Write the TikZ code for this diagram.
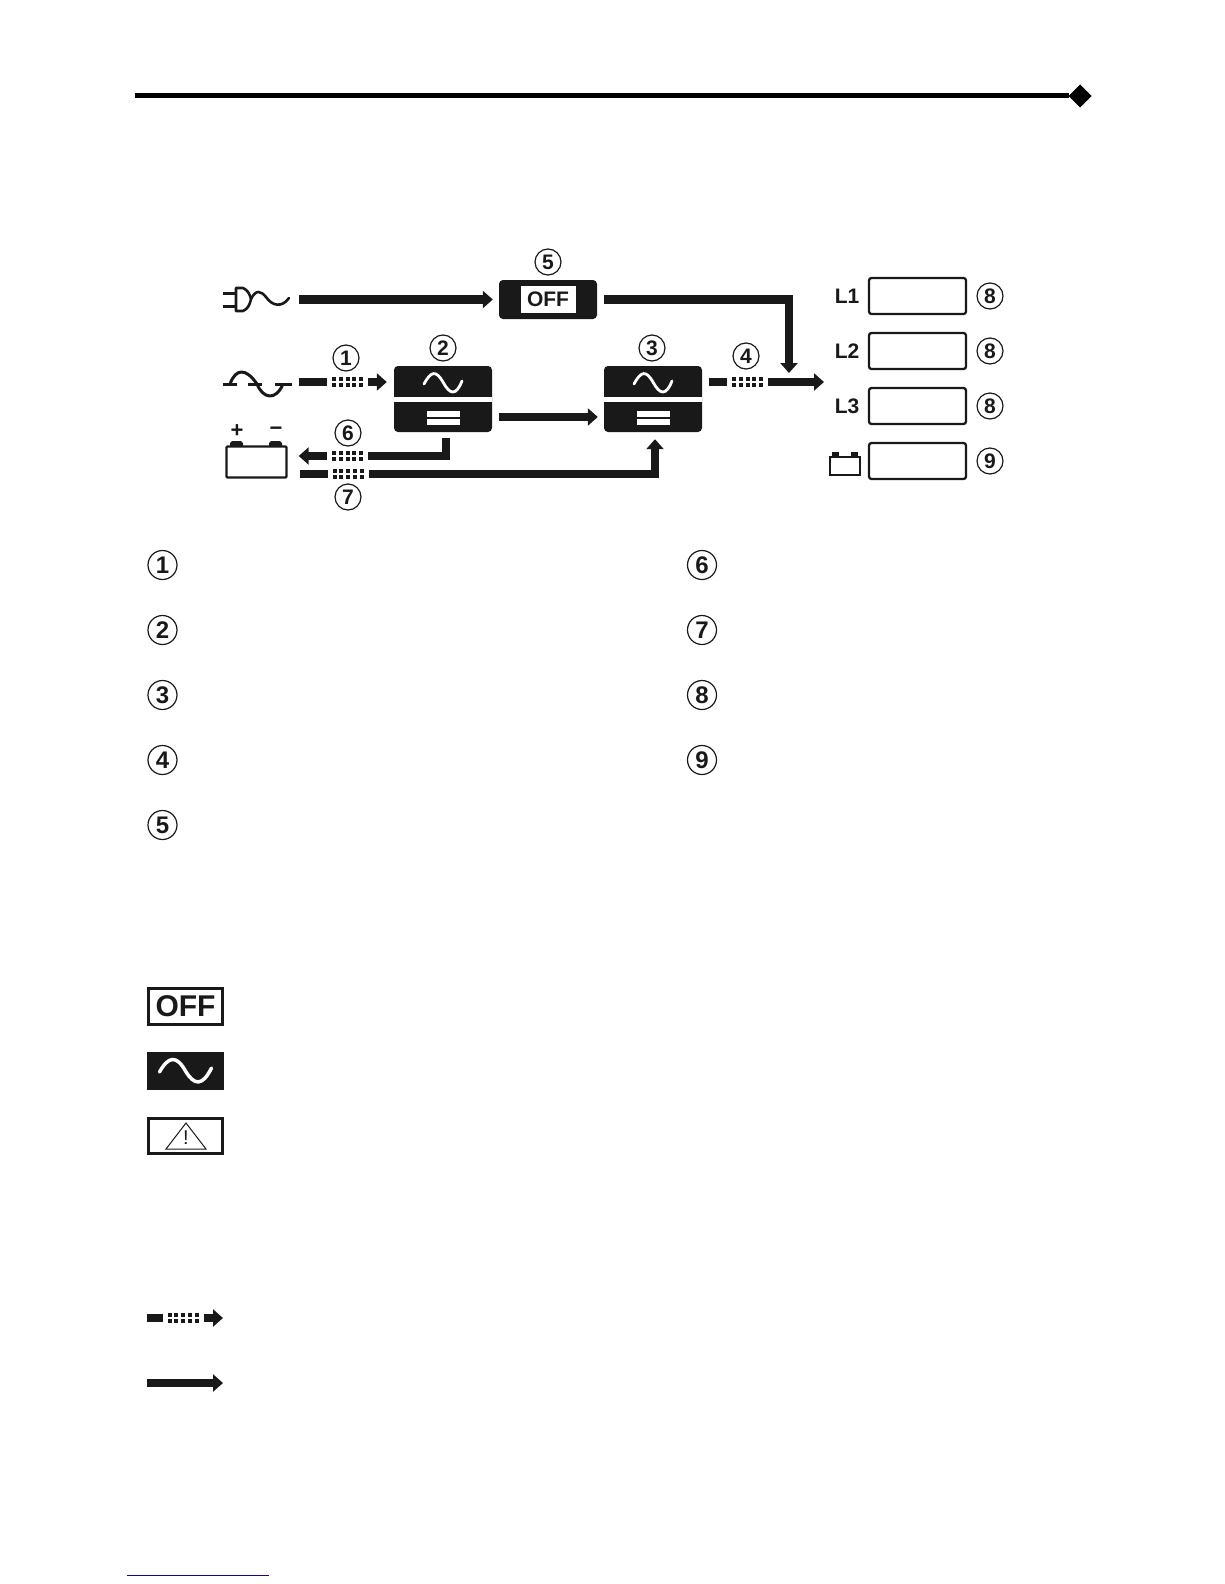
\documentclass[tikz,border=0pt]{standalone}
\usepackage{fontspec}
\setmainfont{Liberation Sans}
\usetikzlibrary{arrows.meta,shapes.geometric}
\definecolor{ink}{gray}{0.1}
\definecolor{linkblue}{rgb}{0.05,0.05,0.5}
\tikzset{
  flow/.style={draw=ink,line width=8.5pt,-{Triangle[length=10pt,width=17pt]}},
  dotgap/.style={fill=white,inner sep=0pt,minimum width=41pt,minimum height=11pt,
    path picture={
      \foreach \i in {-2,...,2} \foreach \j in {-1,1}
        \fill[ink] ([shift={(\i*6.75,\j*2.8)}]path picture bounding box.center) +(-2,-1.75) rectangle +(2,1.75);
    }},
  num/.style={draw=ink,circle,line width=1.2pt,minimum size=26pt,inner sep=0pt,text=ink,font=\fontsize{21}{21}\selectfont\bfseries},
  bignum/.style={num,minimum size=29pt,font=\fontsize{24}{24}\selectfont\bfseries},
  inverter/.style={fill=ink,rounded corners=4pt,inner sep=0pt,minimum width=98pt,minimum height=66pt,
    path picture={
      \begin{scope}[sharp corners,shift={(path picture bounding box.center)}]
        \draw[white,line width=2.8pt,line cap=round] (-19,-15) .. controls (-12,-28) and (-7,-29) .. (0,-17) .. controls (7,-4) and (13,-3) .. (19,-18);
        \fill[white] (-60,-2) rectangle (60,3);
        \fill[white] (-16.5,12) rectangle (16.5,18);
        \fill[white] (-16.5,19.5) rectangle (16.5,25.5);
      \end{scope}
    }},
  meter/.style={draw=ink,line width=2.3pt,rounded corners=2.5pt,inner sep=0pt,minimum width=97pt,minimum height=36pt},
  phase/.style={text=ink,inner sep=0pt,font=\fontsize{21}{21}\selectfont\bfseries},
  legbox/.style={inner sep=0pt,minimum width=77pt,minimum height=38pt},
  framebox/.style={legbox,draw=ink,line width=2.6pt,minimum width=74.5pt,minimum height=35.5pt},
  symline/.style={draw=ink,line width=2.6pt,line join=round}
}
\begin{document}
\begin{tikzpicture}[x=1pt,y=-1pt]
\useasboundingbox (0,0) rectangle (1224,1584);

% top rule
\node[diamond,fill=black,inner sep=0pt,outer sep=0pt,minimum size=23pt] (rulend) at (1080,96) {};
\coordinate (rulestart) at (135,96);
\draw[black,line width=5pt] (rulestart) -- (rulend);

% plug and mains wave
\draw[symline,line width=3pt] (223,293) -- (236,293) (223,306) -- (236,306);
\draw[symline] (236,288) -- (243,288) .. controls (248,290) and (250,295) .. (251,299) .. controls (250,304) and (248,309) .. (243,311) -- (236,311) -- cycle;
\draw[symline,line cap=round] (251,299) .. controls (256,289) and (261,291) .. (266,297) .. controls (272,306) and (282,308) .. (289,298);
\draw[symline,line width=3pt] (223,384) -- (237,384) (248,384) -- (262,384) (275,384) -- (292,384);
\draw[symline,line width=3pt] (230,384) .. controls (236,368) and (246,368) .. (257,384) .. controls (263,399) and (276,401) .. (283,384);

% battery
\node[draw=ink,line width=2.4pt,rounded corners=1pt,inner sep=0pt,minimum width=60pt,minimum height=31pt] (bat) at (256.5,462) {};
\fill[ink] (230,446) -- (230,443) -- (232,441) -- (241,441) -- (243,443) -- (243,446) -- cycle;
\fill[ink] (269,446) -- (269,443) -- (271,441) -- (280,441) -- (282,443) -- (282,446) -- cycle;
\node[text=ink,inner sep=0pt,font=\fontsize{22}{22}\selectfont\bfseries] (batplus) at (237,431) {+};
\node[text=ink,inner sep=0pt,font=\fontsize{22}{22}\selectfont\bfseries] (batminus) at (276,431) {−};

% blocks
\node[fill=ink,rounded corners=4pt,inner sep=0pt,minimum width=98pt,minimum height=39pt] (offbox) at (548,299.5) {};
\node[fill=white,text=ink,inner sep=0pt,minimum width=55pt,minimum height=27pt,font=\fontsize{21}{21}\selectfont\bfseries] (offlabel) at (offbox) {OFF};
\node[inverter] (inva) at (443,399) {};
\node[inverter] (invb) at (653,399) {};

% connectors
\coordinate (plugout) at (299,299.5);
\coordinate (mainsout) at (299,382);
\coordinate (joinpt) at (789,373);
\coordinate (loadpt) at (824,382);
\draw[flow] (plugout) -- ([xshift=-6pt]offbox.west);
\draw[flow,shorten <=7pt] (offbox.east) -| (joinpt);
\draw[flow] (mainsout) -- ([xshift=-7pt]inva.west |- mainsout);
\draw[flow,shorten <=7pt] (invb.east |- loadpt) -- (loadpt);
\draw[flow,shorten <=7pt,shorten >=6pt] ([yshift=-18pt]inva.east) -- ([yshift=-18pt]invb.west);
\draw[flow,shorten <=6pt,shorten >=11pt] ([xshift=3pt]inva.south) |- ([yshift=6pt]bat.east);
\draw[flow,shorten <=12pt,shorten >=7pt] ([yshift=-12pt]bat.east) -| ([xshift=2pt]invb.south);
\node[dotgap] (dotsa) at (347.5,382) {};
\node[dotgap] (dotsb) at (747.5,382) {};
\node[dotgap] (dotsc) at (347.5,456) {};
\node[dotgap] (dotsd) at (348,474) {};

% numbers on the diagram
\node[num] (numa) at (346,358) {1};
\node[num] (numb) at (443,348) {2};
\node[num] (numc) at (652,348) {3};
\node[num] (numd) at (746,356) {4};
\node[num] (nume) at (548,262) {5};
\node[num] (numf) at (348,433) {6};
\node[num] (numg) at (348,497) {7};

% load meters
\foreach \nm/\yy/\lab/\nb in {la/296/L1/8,lb/351/L2/8,lc/406/L3/8,ld/461//9} {
  \node[meter] (\nm) at (917.5,\yy) {};
  \node[num] (num\nm) at (990,\yy) {\nb};
  \node[phase] (lab\nm) at (847,\yy) {\lab};
}
\draw[draw=ink,line width=2pt] (830,457) rectangle (860,475);
\fill[ink] (832,456) rectangle (839,452);
\fill[ink] (851,456) rectangle (858,452);

% numbered list
\foreach \nb/\yy in {1/565,2/630,3/695,4/760,5/825}
  \node[bignum] (lista\nb) at (162.5,\yy) {\nb};
\foreach \nb/\yy in {6/565,7/630,8/695,9/760}
  \node[bignum] (listb\nb) at (702,\yy) {\nb};

% symbols
\node[framebox,text=ink,font=\fontsize{30}{30}\selectfont\bfseries] (legoff) at (185.5,1006.5) {OFF};
\node[legbox,fill=ink,path picture={
  \begin{scope}[shift={(path picture bounding box.center)}]
    \draw[white,line width=3.5pt,line cap=round] (-26,1) .. controls (-17,-15) and (-9,-16) .. (0,0) .. controls (9,15) and (17,15) .. (26,-3);
  \end{scope}
}] (legac) at (185.5,1071) {};
\node[framebox] (legwarn) at (185.5,1136) {};
\draw[draw=ink,line width=1pt,line join=miter] (186,1123) -- (206,1149) -- (166,1149) -- cycle;
\node[text=ink,inner sep=0pt,font=\fontsize{20}{20}\selectfont] (warnmark) at (186,1138) {!};

% line styles
\coordinate (dasha) at (147,1318);
\coordinate (dashb) at (223,1318);
\coordinate (solida) at (147,1383);
\coordinate (solidb) at (223,1383);
\draw[flow] (dasha) -- (dashb);
\node[dotgap] (dotse) at (183,1318) {};
\draw[flow] (solida) -- (solidb);

% bottom link rule
\coordinate (bluea) at (127,1575);
\coordinate (blueb) at (269,1575);
\draw[linkblue,line width=1pt] (bluea) -- (blueb);
\end{tikzpicture}
\end{document}
